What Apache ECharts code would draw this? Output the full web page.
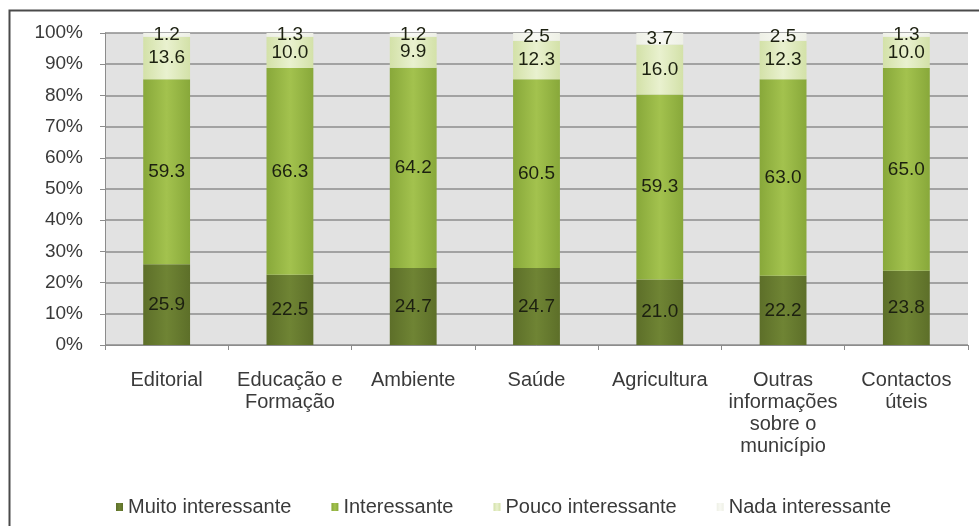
<!DOCTYPE html>
<html>
<head>
<meta charset="utf-8">
<script src="https://cdn.jsdelivr.net/npm/echarts@6/dist/echarts.min.js"></script>
<style>
  html, body { margin: 0; padding: 0; background: #ffffff; }
  #chart { width: 979px; height: 526px; }
</style>
</head>
<body>
<div id="chart"></div>
<script>
// Topics rated by readers (share of answers, %)
const categories = [
  'Editorial',
  'Educação e\nFormação',
  'Ambiente',
  'Saúde',
  'Agricultura',
  'Outras\ninformações\nsobre o\nmunicípio',
  'Contactos\núteis'
];
const muitoInteressante = [25.9, 22.5, 24.7, 24.7, 21.0, 22.2, 23.8];
const interessante      = [59.3, 66.3, 64.2, 60.5, 59.3, 63.0, 65.0];
const poucoInteressante = [13.6, 10.0, 9.9, 12.3, 16.0, 12.3, 10.0];
const nadaInteressante  = [1.2, 1.3, 1.2, 2.5, 3.7, 2.5, 1.3];
const yTicks = [0, 10, 20, 30, 40, 50, 60, 70, 80, 90, 100];

const font = 'Liberation Sans, Arial, sans-serif';

function shade(edge, mid) {
  return {
    type: 'linear', x: 0, y: 0, x2: 1, y2: 0,
    colorStops: [
      { offset: 0, color: edge },
      { offset: 0.5, color: mid },
      { offset: 1, color: edge }
    ]
  };
}

function makeSeries(name, data, colorEdge, colorMid, legendColor) {
  return {
    name: name,
    type: 'bar',
    stack: 'total',
    barWidth: '38%',
    data: data,
    color: legendColor,
    itemStyle: { color: shade(colorEdge, colorMid) },
    label: {
      show: true,
      position: 'inside',
      formatter: p => p.value.toFixed(1),
      color: '#1c2010',
      fontFamily: font,
      fontSize: 19
    },
    emphasis: { disabled: true }
  };
}

const chart = echarts.init(document.getElementById('chart'), null, { renderer: 'canvas' });

chart.setOption({
  backgroundColor: '#ffffff',
  animation: false,
  graphic: [{
    type: 'rect',
    shape: { x: 9.5, y: 10.5, width: 1200, height: 800 },
    style: { fill: 'none', stroke: '#4a4a4a', lineWidth: 2 },
    silent: true,
    z: -10
  }],
  grid: {
    left: 105, right: 11, top: 33, bottom: 181,
    show: true,
    backgroundColor: '#e2e2e2',
    borderWidth: 0
  },
  legend: {
    bottom: 9,
    left: 116,
    padding: 0,
    itemWidth: 7,
    itemHeight: 8,
    itemGap: 40,
    icon: 'rect',
    textStyle: { fontFamily: font, fontSize: 20, color: '#3a3a3a', padding: [0, 0, 0, 0] },
    data: ['Muito interessante', 'Interessante', 'Pouco interessante', 'Nada interessante']
  },
  xAxis: {
    type: 'category',
    data: categories,
    axisLine: { show: true, lineStyle: { color: '#8c8c8c', width: 1 } },
    axisTick: { show: true, length: 5, lineStyle: { color: '#8c8c8c' } },
    axisLabel: {
      fontFamily: font, fontSize: 20, color: '#3a3a3a',
      margin: 24, lineHeight: 22, interval: 0
    },
    splitLine: { show: false }
  },
  yAxis: {
    type: 'value',
    min: 0, max: 100, interval: 10,
    axisLine: { show: true, lineStyle: { color: '#8c8c8c' } },
    axisTick: { show: true, length: 5, lineStyle: { color: '#8c8c8c' } },
    axisLabel: {
      fontFamily: font, fontSize: 19, color: '#3a3a3a', margin: 22,
      formatter: v => (yTicks.indexOf(v) >= 0 ? v + '%' : '')
    },
    splitLine: { show: true, lineStyle: { color: '#8c8c8c', width: 1.5 } }
  },
  series: [
    makeSeries('Muito interessante', muitoInteressante, '#5d6f29', '#6f8434', '#5f7530'),
    makeSeries('Interessante', interessante, '#88a83a', '#a3c24e', '#89a83d'),
    makeSeries('Pouco interessante', poucoInteressante, '#d3e1a8', '#e9f1cf', '#c8d99a'),
    makeSeries('Nada interessante', nadaInteressante, '#eef0e6', '#f8f9f3', '#e4e7da')
  ]
});
</script>
</body>
</html>
